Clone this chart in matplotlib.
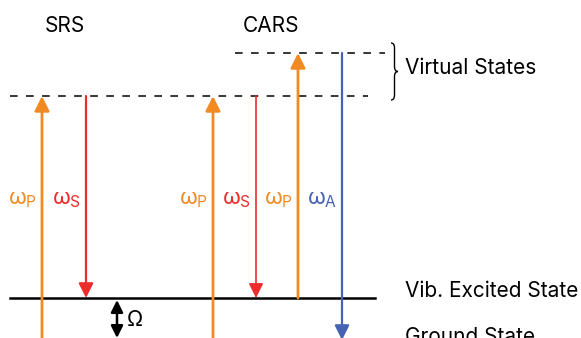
import matplotlib.pyplot as plt
from matplotlib.path import Path
from matplotlib.patches import PathPatch

plt.rcParams['font.family'] = ['Inter', 'DejaVu Sans']
plt.rcParams['mathtext.fontset'] = 'custom'
plt.rcParams['mathtext.rm'] = 'Inter'
plt.rcParams['mathtext.it'] = 'Inter'
plt.rcParams['mathtext.sf'] = 'Inter'

ORANGE = '#f28a24'
RED = '#ee2a2a'
BLUE = '#4563b2'

# energy levels (arbitrary units, ground = 0)
level_names = ['Ground State', 'Vib. Excited State', 'Virtual low', 'Virtual high']
level_values = [0, 42, 244, 287]

# transitions: x position, start level, end level, colour, label
trans_x = [42, 86, 213, 256, 298, 342]
trans_from = [0, 2, 0, 2, 1, 3]
trans_to = [2, 1, 2, 1, 3, 0]
trans_color = [ORANGE, RED, ORANGE, RED, ORANGE, BLUE]
trans_label = ['P', 'S', 'P', 'S', 'P', 'A']
trans_lw = [2.0, 1.6, 2.0, 1.2, 2.0, 1.6]

fig = plt.figure(figsize=(5.81, 3.38), dpi=100)
ax = fig.add_axes([0, 0, 1, 1])
ax.set_xlim(0, 581)
ax.set_ylim(2, 340)
ax.axis('off')

g, vib, v1, v2 = level_values

# level lines
ax.plot([10, 375], [vib, vib], color='black', lw=1.8)
ax.plot([10, 375], [g, g], color='black', lw=1.8)
ax.plot([10, 368], [v1, v1], color='black', lw=1.1, dashes=(5, 5.5))
ax.plot([235, 385], [v2, v2], color='black', lw=1.1, dashes=(5, 5.5))

for x, a, b, c, lab, lw in zip(trans_x, trans_from, trans_to, trans_color,
                               trans_label, trans_lw):
    y0 = level_values[a]
    y1 = level_values[b]
    ax.annotate('', xy=(x, y1), xytext=(x, y0), annotation_clip=False,
                arrowprops=dict(arrowstyle='-|>', color=c, lw=lw,
                                mutation_scale=22, shrinkA=0, shrinkB=0))
    ax.text(x - 5, 140, r'$\omega_{\mathrm{' + lab + '}}$', color=c,
            fontsize=16, ha='right', va='center')

# vibrational spacing
ax.annotate('', xy=(117, g + 2), xytext=(117, vib - 2), annotation_clip=False,
            arrowprops=dict(arrowstyle='<|-|>', color='black', lw=1.8,
                            mutation_scale=18, shrinkA=0, shrinkB=0))
ax.text(127, 20, 'Ω', fontsize=15, ha='left', va='center')

ax.text(65, 314, 'SRS', fontsize=15, ha='center', va='center')
ax.text(271, 314, 'CARS', fontsize=15, ha='center', va='center')

# curly brace around the virtual states
bx, by0, by1 = 391, v1 - 4, v2 + 10
bm = (by0 + by1) / 2
brace = Path(
    [(bx, by1), (bx + 3.5, by1), (bx + 3.5, by1 - 5),
     (bx + 3.5, bm + 5),
     (bx + 3.5, bm), (bx + 7, bm),
     (bx + 3.5, bm), (bx + 3.5, bm - 5),
     (bx + 3.5, by0 + 5),
     (bx + 3.5, by0), (bx, by0)],
    [Path.MOVETO, Path.CURVE3, Path.CURVE3,
     Path.LINETO,
     Path.CURVE3, Path.CURVE3,
     Path.CURVE3, Path.CURVE3,
     Path.LINETO,
     Path.CURVE3, Path.CURVE3])
ax.add_patch(PathPatch(brace, fill=False, color='black', lw=1.0))

ax.text(405, 272, 'Virtual States', fontsize=15, ha='left', va='center')
ax.text(405, 49, 'Vib. Excited State', fontsize=15, ha='left', va='center')
ax.text(405, 3, 'Ground State', fontsize=15, ha='left', va='center')

fig.savefig('out.png', dpi=100)
